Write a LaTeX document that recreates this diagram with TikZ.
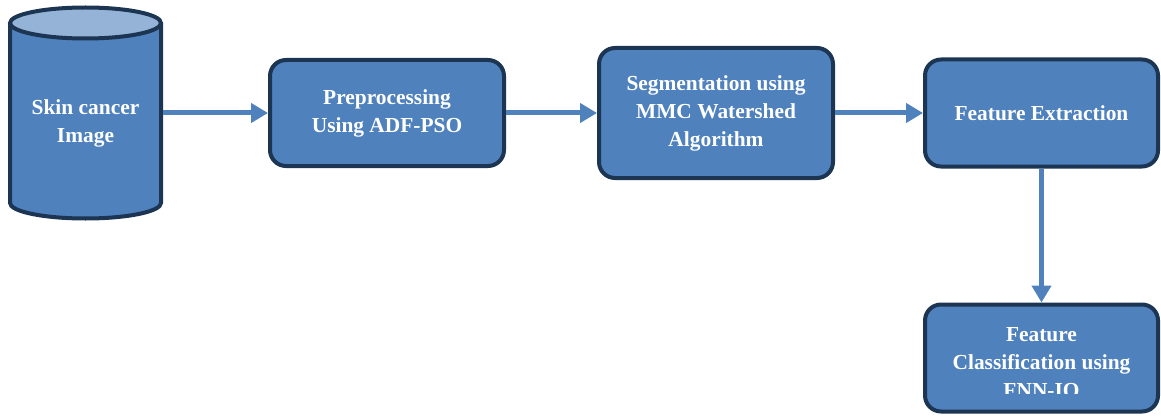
\documentclass[tikz,border=0pt]{standalone}
\usepackage{fontspec}
\setmainfont{Liberation Serif}
\usetikzlibrary{arrows.meta}
\definecolor{fillblue}{HTML}{4F81BD}
\definecolor{edgeblue}{HTML}{1C3553}
\definecolor{topblue}{HTML}{95B3D7}
\tikzset{
  procbox/.style={rectangle, rounded corners=16pt, draw=edgeblue, line width=4pt,
    fill=fillblue, text=white, align=center, inner sep=0pt,
    font=\bfseries\fontsize{21.4}{28}\selectfont},
  txt/.style={text=white, align=center, inner sep=0pt,
    font=\bfseries\fontsize{21.4}{28}\selectfont},
  flow/.style={draw=fillblue, line width=5pt, -{Triangle[length=17pt,width=19pt]}}
}
\begin{document}
\begin{tikzpicture}[x=1pt,y=-1pt]
\useasboundingbox (0,0) rectangle (1161,417);
% cylinder
\fill[fillblue] (10,23) -- (10,203) arc[start angle=180,end angle=360,x radius=75.5pt,y radius=15.5pt] -- (161,23) -- cycle;
\draw[edgeblue, line width=4pt] (10,23) -- (10,203) arc[start angle=180,end angle=360,x radius=75.5pt,y radius=15.5pt] -- (161,23);
\draw[edgeblue, fill=topblue, line width=4pt] (85.5,23) ellipse [x radius=75.5pt, y radius=15.5pt];
\node[inner sep=0pt, minimum width=155pt, minimum height=214pt] (cyl) at (85.5,113) {};
\node[txt] (cyltext) at (85.5,123) {Skin cancer\\Image};
% boxes
\node[procbox, minimum width=234pt, minimum height=106pt] (b1) at (387,113) {Preprocessing\\Using ADF-PSO};
\node[procbox, minimum width=234pt, minimum height=130pt] (b2) at (716,113) {Segmentation using\\MMC Watershed\\Algorithm};
\node[procbox, minimum width=233pt, minimum height=107pt] (b3) at (1041.5,113) {Feature Extraction};
\node[procbox, minimum width=233pt, minimum height=107pt] (b4) at (1041.5,358) {};
\begin{scope}
\clip (900,300) rectangle (1161,393);
\node[txt] (b4text) at (1041.5,363) {Feature\\Classification using\\FNN-IO};
\end{scope}
% connectors
\draw[flow] (cyl.east |- b1.west) -- (b1.west);
\draw[flow] (b1.east) -- (b2.west);
\draw[flow] (b2.east) -- (b3.west);
\draw[flow] (b3.south) -- (b4.north);
\end{tikzpicture}
\end{document}
